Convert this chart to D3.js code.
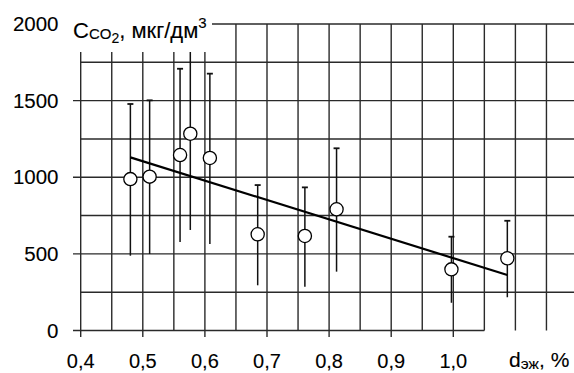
<!DOCTYPE html>
<html><head><meta charset="utf-8">
<script src="https://cdn.jsdelivr.net/npm/d3@7"></script>
<style>body{margin:0;background:#fff}svg{display:block}text{stroke:#000;stroke-width:0.12px}</style>
</head><body>
<svg id="c" width="574" height="373"></svg>
<script>
const xVals   = [0.480, 0.511, 0.560, 0.5765, 0.608, 0.685, 0.761, 0.812, 0.997, 1.087];
const yVals   = [988, 1004, 1145, 1284, 1126, 628, 617, 791, 399, 471];
const errHigh = [1478, 1502, 1708, 1900, 1676, 949, 934, 1189, 612, 716];
const errLow  = [488, 499, 577, 656, 565, 295, 286, 384, 181, 217];
const fitX = [0.48, 1.087];
const fitY = [1130, 362];
const xTicks = [0.4, 0.5, 0.6, 0.7, 0.8, 0.9, 1.0];
const xTickLabels = ["0,4", "0,5", "0,6", "0,7", "0,8", "0,9", "1,0"];
const yTicks = [0, 500, 1000, 1500, 2000];
const yTickLabels = ["0", "500", "1000", "1500", "2000"];
const xGrid = d3.range(0, 16).map(i => +(0.4 + i * 0.05).toFixed(2));
const yGrid = d3.range(0, 9).map(i => i * 250);

const FONT = "'Liberation Sans', Arial, Helvetica, sans-serif";
const svg = d3.select("#c").attr("font-family", FONT);
const x = d3.scaleLinear().domain([0.4, 1.2]).range([80.7, 577.5]);
const y = d3.scaleLinear().domain([0, 2000]).range([330.5, 24]);
const gridColor = "#2a2a2a";

const g = svg.append("g");
g.selectAll(".vg").data(xGrid).join("line")
  .attr("x1", d => x(d)).attr("x2", d => x(d))
  .attr("y1", y(2000))
  .attr("y2", d => xTicks.some(t => Math.abs(t - d) < 1e-6) ? 337 : y(0))
  .attr("stroke", gridColor).attr("stroke-width", 1.4);
g.selectAll(".hg").data(yGrid).join("line")
  .attr("x1", d => yTicks.includes(d) ? 73 : x(0.4))
  .attr("x2", d => d === 0 ? x(1.05) : 574)
  .attr("y1", d => y(d)).attr("y2", d => y(d))
  .attr("stroke", gridColor).attr("stroke-width", 1.4);

const eb = svg.append("g");
xVals.forEach((xv, i) => {
  eb.append("line").attr("x1", x(xv)).attr("x2", x(xv))
    .attr("y1", y(errHigh[i])).attr("y2", y(errLow[i]))
    .attr("stroke", "#111").attr("stroke-width", 1.5);
  eb.append("line").attr("x1", x(xv) - 3).attr("x2", x(xv) + 3)
    .attr("y1", y(errHigh[i])).attr("y2", y(errHigh[i]))
    .attr("stroke", "#111").attr("stroke-width", 1.8);
});

svg.append("rect").attr("x", 60).attr("y", 5).attr("width", 152).attr("height", 47).attr("fill", "#fff");

svg.append("line")
  .attr("x1", x(fitX[0])).attr("y1", y(fitY[0]))
  .attr("x2", x(fitX[1])).attr("y2", y(fitY[1]))
  .attr("stroke", "#000").attr("stroke-width", 2.2);

svg.selectAll(".pt").data(xVals).join("circle")
  .attr("cx", d => x(d)).attr("cy", (d, i) => y(yVals[i])).attr("r", 6.6)
  .attr("fill", "#fff").attr("stroke", "#000").attr("stroke-width", 1.3);

svg.selectAll(".yl").data(yTicks).join("text")
  .attr("x", 58.5).attr("y", d => y(d) + 7)
  .attr("text-anchor", "end").attr("font-size", 20.5).attr("fill", "#000")
  .text((d, i) => yTickLabels[i]);
svg.selectAll(".xl").data(xTicks).join("text")
  .attr("x", d => x(d)).attr("y", 368)
  .attr("text-anchor", "middle").attr("font-size", 20).attr("fill", "#000")
  .text((d, i) => xTickLabels[i]);

const t = svg.append("text").attr("x", 73).attr("y", 38).attr("font-size", 22).attr("fill", "#000");
t.append("tspan").text("C");
t.append("tspan").attr("font-size", 15).attr("dy", 0.5).text("CO");
t.append("tspan").attr("font-size", 14).attr("dy", 4.5).text("2");
t.append("tspan").attr("dy", -5).text(", мкг/дм");
t.append("tspan").attr("font-size", 15).attr("dy", -10).text("3");

const xt = svg.append("text").attr("x", 509).attr("y", 367).attr("font-size", 21).attr("fill", "#000");
xt.append("tspan").text("d");
xt.append("tspan").attr("font-size", 15.5).attr("dy", 2).text("эж");
xt.append("tspan").attr("dy", -2).text(", %");
</script>
</body></html>
